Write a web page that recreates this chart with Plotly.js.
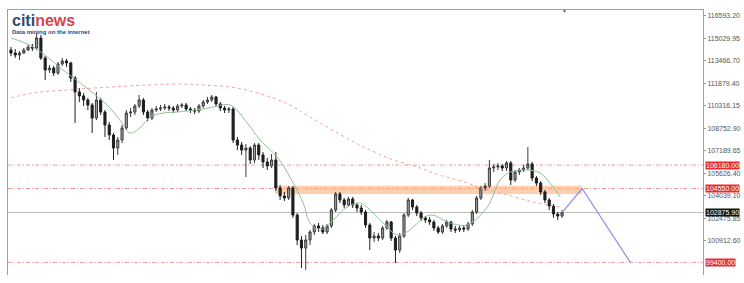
<!DOCTYPE html>
<html>
<head>
<meta charset="utf-8">
<script src="https://cdn.plot.ly/plotly-3.0.1.min.js"></script>
<style>
  html, body { margin: 0; padding: 0; background: #ffffff; }
  #chart { width: 744px; height: 283px; }
</style>
</head>
<body>
<div id="chart"></div>
<script>
// ---- Candle data (price values) ----
const openP = [114200,113990,113850,113990,114200,114410,114340,115040,113650,112810,
  112950,112600,113230,113440,113300,112250,111280,111000,110720,110370,
  109460,110720,109880,108980,108280,107370,107930,108770,109810,109880,
  110300,110720,109880,109460,110020,110090,110160,110230,110160,110020,
  110300,110370,110090,110020,109950,110300,110580,110720,110930,110440,
  110160,110020,110090,107930,107580,107230,107370,106540,107580,106890,
  106400,106120,106540,104590,104030,103890,104590,102700,100960,100400,
  100960,101520,101940,101800,101520,101940,103050,104170,103750,103400,
  103820,103400,103190,102910,102010,101100,101240,101100,101800,102220,
  101100,100260,101240,102700,103750,103260,102840,102500,102360,102220,
  101800,101520,101940,102220,101730,101660,101800,101730,102080,102910,
  103890,104590,104720,105980,106050,106120,105980,106330,105140,105700,
  105840,105980,106260,105280,104930,104310,103750,103330,102770,102630];
const highP = [114410,114270,114130,114340,114550,114620,115390,115250,113780,113160,
  113090,113370,113650,113580,113370,112390,111550,111210,110860,110510,
  111280,110860,110020,109180,108420,108140,108980,110020,110160,110440,
  111070,110860,110020,110160,110300,110370,110440,110370,110300,110440,
  110510,110510,110230,110160,110440,110720,110930,111070,111000,110580,
  110300,110230,110230,108140,107790,107650,107510,107720,107720,107090,
  106680,106950,107090,104790,104310,104720,104720,102840,101240,101310,
  101660,102080,102150,102010,102080,103190,104310,104310,103890,103960,
  103960,103540,103400,103050,102150,101520,101450,101940,102360,102290,
  101240,101450,102840,103890,103820,103400,102980,102630,102560,102360,
  101940,102080,102360,102290,101940,102010,101940,102220,103050,104030,
  104720,104930,106540,106260,106330,106260,106470,106470,105840,105980,
  106190,107440,106400,105420,105070,104450,103890,103470,102910,103050];
const lowP = [113780,113650,113510,113920,114130,114130,114200,113510,112110,112600,
  112390,112460,113090,113020,111970,109120,110580,110300,110020,108420,
  109320,109670,108140,107930,106540,106890,107720,108630,109530,109670,
  110160,109670,109250,109320,109880,109950,110020,109950,109810,109880,
  110160,109950,109810,109740,109810,110160,110440,110580,110300,109950,
  109810,109810,107720,107230,106890,105350,106260,106330,106540,105980,
  105840,105980,104380,103750,103680,103750,102500,100610,99010,98870,
  100610,101310,101520,101380,101380,101800,102910,103540,103190,103260,
  103190,102910,102700,101800,100260,100820,100890,100960,101660,100890,
  99360,100060,101100,102560,103050,102630,102290,102150,102010,101590,
  101380,101380,101800,101520,101450,101520,101520,101590,101940,102770,
  103750,104380,104590,105700,105840,105770,105770,104790,105000,105490,
  105700,105840,105070,104720,104100,103540,103050,102500,102360,102500];
const closeP = [113990,113850,113990,114200,114410,114340,115040,113650,112810,112950,
  112600,113230,113440,113300,112250,111280,111000,110720,110370,109460,
  110720,109880,108980,108280,107370,107930,108770,109810,109880,110300,
  110720,109880,109460,110020,110090,110160,110230,110160,110020,110300,
  110370,110090,110020,109950,110300,110580,110720,110930,110440,110160,
  110020,110090,107930,107580,107230,107370,106540,107580,106890,106400,
  106120,106540,104590,104030,103890,104590,102700,100960,100400,100960,
  101520,101940,101800,101520,101940,103050,104170,103750,103400,103820,
  103400,103190,102910,102010,101100,101240,101100,101800,102220,101100,
  100260,101240,102700,103750,103260,102840,102500,102360,102220,101800,
  101520,101940,102220,101730,101660,101800,101730,102080,102910,103890,
  104590,104720,105980,106050,106120,105980,106330,105140,105700,105840,
  105980,106260,105280,104930,104310,103750,103330,102770,102630,102875.9];

// ---- Moving averages (candle index, price) ----
const fastMaIdx = [0,5.2,13.1,19.2,23.2,25.5,27.9,30.2,32.6,35.6,38.9,45.0,47.3,51.3,55.3,58.3,62.3,65.3,68.4,70.0,72.4,75.4,78.7,81.7,84.1,87.1,90.4,92.7,98.1,102.8,106.8,111.5,114.5,116.9,120.8,123.9,126.9,128.6];
const fastMaVal = [115040,114410,112600,111210,110160,109320,108420,108770,109530,109810,109880,110090,110230,110370,109120,107930,106750,105350,103540,102150,101660,102360,103260,103540,103050,102150,101310,101520,102700,102150,102010,103260,105140,105700,105840,105630,104660,103960];
const slowMaIdx = [0,5.2,13.1,23.2,38.9,45.0,52.9,60.7,65.3,70.0,79.4,84.1,89.5,95.8,98.8,106.8,110.5,114.5,122.2,128.6];
const slowMaVal = [110860,111210,111420,111620,111830,111760,111550,110930,110370,109530,107930,107230,106540,105980,105630,104930,104520,104240,103610,103260];

// ---- Levels, zone and projection ----
const levelVals = [106180, 104550, 99400];
const levelText = ["106180.00", "104550.00", "99400.00"];
const lastPrice = 102875.9;
const lastText = "102875.90";
const zoneIdx = [61.8, 133.7];
const zoneVal = [104170, 104750];
const projIdx = [129, 133.7, 145];
const projVal = [102875.9, 104550, 99400];

// ---- Axis ticks ----
const tickVals = [116593.20,115029.95,113466.70,111879.40,110316.15,108752.90,107189.65,105626.40,104039.10,102475.85,100912.60];
const tickText = ["116593.20","115029.95","113466.70","111879.40","110316.15","108752.90","107189.65","105626.40","104039.10","102475.85","100912.60"];

const idx = closeP.map((_, i) => i);

const traces = [
  {
    type: 'scatter', mode: 'lines', x: slowMaIdx, y: slowMaVal,
    line: { color: '#f3a3a8', width: 1, dash: 'dot', shape: 'spline' },
    hoverinfo: 'skip', showlegend: false
  },
  {
    type: 'scatter', mode: 'lines', x: fastMaIdx, y: fastMaVal,
    line: { color: '#93bf98', width: 1, shape: 'spline' },
    hoverinfo: 'skip', showlegend: false
  },
  {
    type: 'candlestick', x: idx, open: openP, high: highP, low: lowP, close: closeP,
    increasing: { line: { color: '#3a3a3a', width: 1 }, fillcolor: '#a0a0a0' },
    decreasing: { line: { color: '#1e1e1e', width: 1 }, fillcolor: '#1e1e1e' },
    whiskerwidth: 0,
    hoverinfo: 'skip', showlegend: false
  },
  {
    type: 'scatter', mode: 'lines', x: projIdx, y: projVal,
    line: { color: '#8c8fe0', width: 1.2 },
    hoverinfo: 'skip', showlegend: false
  }
];

const shapes = [
  { type: 'rect', xref: 'x', yref: 'y', x0: zoneIdx[0], x1: zoneIdx[1], y0: zoneVal[0], y1: zoneVal[1],
    fillcolor: 'rgba(250,170,110,0.55)', line: { width: 0 }, layer: 'below' },
  { type: 'line', xref: 'paper', yref: 'y', x0: 0, x1: 1, y0: lastPrice, y1: lastPrice,
    line: { color: '#bdbdbd', width: 1 }, layer: 'below' }
];
levelVals.forEach(v => shapes.push({
  type: 'line', xref: 'paper', yref: 'y', x0: 0, x1: 1, y0: v, y1: v,
  line: { color: '#f39a9a', width: 1, dash: '4px,2px,1px,2px' }, layer: 'below'
}));

const annotations = [];
levelVals.forEach((v, k) => annotations.push({
  xref: 'paper', yref: 'y', x: 1, y: v, xanchor: 'left', yanchor: 'middle', xshift: 2,
  text: levelText[k], showarrow: false, bgcolor: '#ea2a30', borderpad: 0,
  font: { family: 'Liberation Sans, Arial, sans-serif', size: 7, color: '#ffffff' }
}));
annotations.push({
  xref: 'paper', yref: 'y', x: 1, y: lastPrice, xanchor: 'left', yanchor: 'middle', xshift: 2,
  text: lastText, showarrow: false, bgcolor: '#111111', borderpad: 0,
  font: { family: 'Liberation Sans, Arial, sans-serif', size: 7, color: '#ffffff' }
});
// logo watermark
annotations.push({
  xref: 'paper', yref: 'paper', x: 0.003, y: 1, xanchor: 'left', yanchor: 'top', yshift: 0,
  text: '<b><span style="color:#2c4a7a">citi</span><span style="color:#d8454a">news</span></b>',
  showarrow: false, font: { family: 'Liberation Sans, Arial, sans-serif', size: 16 }
});
annotations.push({
  xref: 'paper', yref: 'paper', x: 0.003, y: 1, xanchor: 'left', yanchor: 'top', yshift: -17,
  text: '<b>Data mining on the internet</b>', showarrow: false,
  font: { family: 'Liberation Sans, Arial, sans-serif', size: 6, color: '#2c4a7a' }
});
annotations.push({
  xref: 'paper', yref: 'paper', x: 0.8014, y: 1, xanchor: 'center', yanchor: 'middle', yshift: -1,
  text: '▼', showarrow: false, font: { size: 5, color: '#5a6070' }
});

const layout = {
  width: 744, height: 283,
  margin: { l: 8, r: 41, t: 10, b: 8, pad: 0 },
  paper_bgcolor: '#ffffff', plot_bgcolor: '#ffffff',
  showlegend: false,
  dragmode: false,
  xaxis: {
    range: [-0.7, 162], side: 'top', showgrid: false, zeroline: false,
    showticklabels: false, ticks: '', showline: true, linecolor: '#a0a0a0', linewidth: 1,
    rangeslider: { visible: false }, fixedrange: true
  },
  yaxis: {
    range: [98522, 116990], side: 'right', showgrid: false, zeroline: false,
    tickmode: 'array', tickvals: tickVals, ticktext: tickText,
    ticks: 'outside', ticklen: 2, tickcolor: '#999', tickwidth: 1,
    showline: true, linecolor: '#a0a0a0', linewidth: 1, mirror: true,
    tickfont: { family: 'Liberation Sans, Arial, sans-serif', size: 7, color: '#555555' },
    fixedrange: true
  },
  shapes: shapes,
  annotations: annotations
};

Plotly.newPlot('chart', traces, layout, { displayModeBar: false, staticPlot: true });
</script>
</body>
</html>
